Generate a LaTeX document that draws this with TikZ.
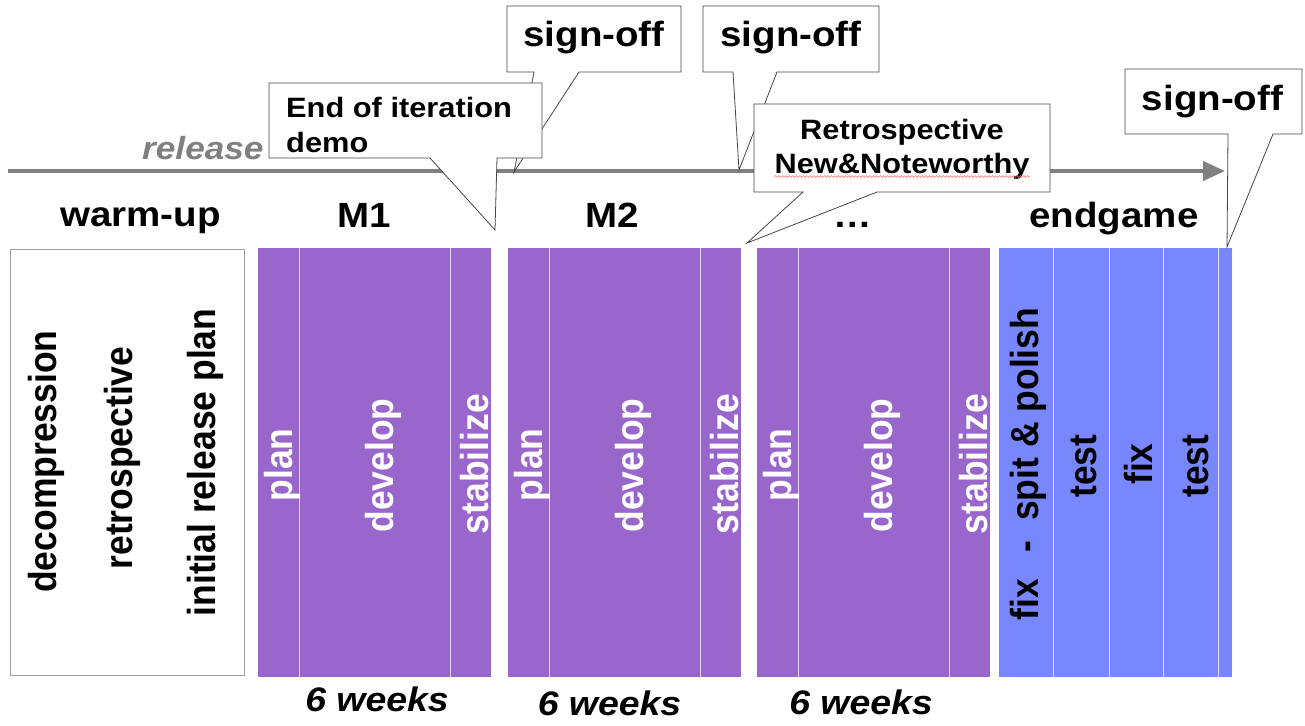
\documentclass[tikz,border=0pt]{standalone}
\usepackage{graphicx}
\usepackage{fontspec}
\setmainfont{Liberation Sans}
\usetikzlibrary{arrows.meta,decorations.pathmorphing}
\definecolor{purpleblk}{RGB}{153,102,204}
\definecolor{blueblk}{RGB}{120,136,252}
\definecolor{axisgray}{RGB}{128,128,128}
\definecolor{calloutline}{RGB}{70,70,70}
\definecolor{boxgray}{RGB}{160,160,160}
\definecolor{spellred}{RGB}{240,110,110}
\newcommand{\hx}[1]{\scalebox{1.1}[1]{#1}}
\newcommand{\vx}[1]{\scalebox{1}[1.1]{#1}}
\newcommand{\fs}[1]{\fontsize{#1}{#1}\selectfont}
\tikzset{
  callout/.style={draw=calloutline, line width=0.8pt, fill=white},
  heading/.style={anchor=base, inner sep=0pt, font=\bfseries\fs{35}},
  signtext/.style={anchor=base, inner sep=0pt, font=\bfseries\fs{35}},
  notetext/.style={anchor=base, inner sep=0pt, font=\bfseries\fs{28}},
  weeks/.style={anchor=base, inner sep=0pt, font=\bfseries\itshape\fs{34}},
  vtext/.style={rotate=90, anchor=center, inner sep=0pt, font=\bfseries\fs{35.5}},
  wtext/.style={vtext, text=white},
  divider/.style={draw=white, draw opacity=0.75, line width=1pt},
}
\begin{document}
\begin{tikzpicture}[x=1pt,y=-1pt]
\useasboundingbox (0,0) rectangle (1305,725);

% timeline arrow
\coordinate (aStart) at (8,171);
\coordinate (aEnd) at (1225,171);
\draw[axisgray, line width=4pt, -{Triangle[length=22pt,width=19pt]}] (aStart) -- (aEnd);
\node[anchor=base west, inner sep=0pt, text=axisgray, font=\bfseries\itshape\fs{32}] (release) at (142,159) {\hx{release}};

% headings
\node[heading] (hwarm) at (140.5,226) {\hx{warm-up}};
\node[heading] (hm1) at (364,227) {\hx{M1}};
\node[heading] (hm2) at (612,227) {\hx{M2}};
\node[heading] (hdots) at (853,227) {\hx{…}};
\node[heading] (hend) at (1114,227) {\hx{endgame}};

% warm-up box
\draw[boxgray, line width=1pt, fill=white] (10,249) rectangle (244,675);
\node[vtext] (decomp) at (46,461.5) {\vx{decompression}};
\node[vtext] (retro) at (122,458) {\vx{retrospective}};
\node[vtext] (irp) at (205,462.5) {\vx{initial release plan}};

% milestone blocks
\foreach \dx/\nm in {0/a,250/b,499/c}{
  \fill[purpleblk] (258+\dx,248) rectangle (491+\dx,677);
  \draw[divider] (299+\dx,248) -- (299+\dx,677);
  \draw[divider] (450+\dx,248) -- (450+\dx,677);
  \node[wtext] (plan\nm) at (282.5+\dx,465) {\vx{plan}};
  \node[wtext] (dev\nm) at (383.5+\dx,465.5) {\vx{develop}};
  \node[wtext] (stab\nm) at (475+\dx,464) {\vx{stabilize}};
}

% endgame block
\fill[blueblk] (999,248) rectangle (1232,677);
\foreach \xx in {1053,1109,1163,1218}{
  \draw[divider] (\xx,248) -- (\xx,677);
}
\node[vtext] (egfix) at (1028.5,464) {\vx{fix\hspace{0.75em}-\hspace{0.55em}spit \& polish}};
\node[vtext] (egtest1) at (1084,466) {\vx{test}};
\node[vtext] (egfix2) at (1138.5,464) {\vx{fix}};
\node[vtext] (egtest2) at (1196,466) {\vx{test}};

% 6 weeks
\node[weeks] (w1) at (377,711) {\hx{6 weeks}};
\node[weeks] (w2) at (609.5,715) {\hx{6 weeks}};
\node[weeks] (w3) at (861,714) {\hx{6 weeks}};

% sign-off callouts 1 and 2
\coordinate (tip1) at (514,172);
\draw[callout] (507,6) -- (681,6) -- (681,72) -- (579,72) -- (tip1) -- (534,72) -- (507,72) -- cycle;
\node[signtext] (so1) at (594,47) {\hx{sign-off}};
\coordinate (tip2) at (739,170);
\draw[callout] (703,6) -- (879,6) -- (879,72) -- (777,72) -- (tip2) -- (733,72) -- (703,72) -- cycle;
\node[signtext] (so2) at (791,47) {\hx{sign-off}};

% end of iteration callout
\coordinate (tipE) at (495,230);
\draw[callout] (269,83) -- (542,83) -- (542,158) -- (497,158) -- (tipE) -- (430,158) -- (269,158) -- cycle;
\node[notetext, anchor=base west] (eoi1) at (286,117) {\hx{End of iteration}};
\node[notetext, anchor=base west] (eoi2) at (286,152) {\hx{demo}};

% retrospective callout
\coordinate (tipR) at (747,243);
\draw[callout] (754,104) -- (1050,104) -- (1050,192) -- (877,192) -- (tipR) -- (803,192) -- (754,192) -- cycle;
\node[notetext] (rs1) at (902,139) {\hx{Retrospective}};
\node[notetext] (rs2) at (902,173) {\hx{New\&Noteworthy}};
\draw[spellred, line width=0.6pt, decorate, decoration={snake, amplitude=0.9pt, segment length=3.5pt}] (rs2.south west |- 0,176.5) -- (rs2.south east |- 0,176.5);

% final sign-off callout
\coordinate (tip3) at (1227,247);
\draw[callout] (1125,69) -- (1302,69) -- (1302,134) -- (1273,134) -- (tip3) -- (1228,134) -- (1125,134) -- cycle;
\node[signtext] (so3) at (1212.5,110) {\hx{sign-off}};
\end{tikzpicture}
\end{document}
